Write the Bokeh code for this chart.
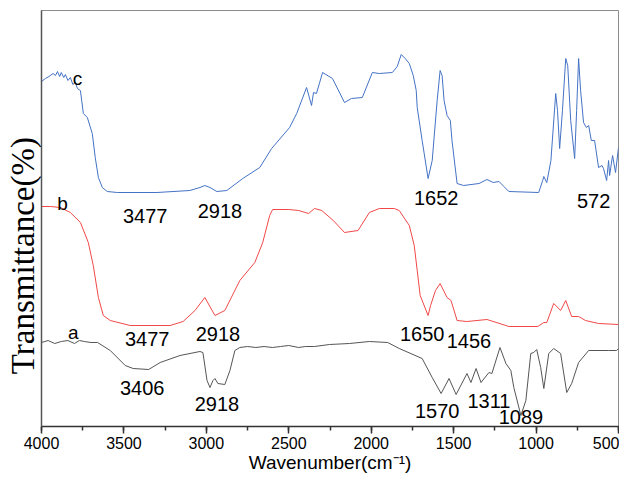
from bokeh.plotting import figure
from bokeh.models import Range1d, SingleIntervalTicker, FixedTicker, Label
from bokeh.embed import file_html
from bokeh.resources import INLINE

# ---- data (wavenumber, transmittance in arbitrary offset units) ----
c_wn = [4000, 3976, 3955, 3930, 3915, 3903, 3890, 3880, 3865, 3855, 3840, 3825, 3810, 3795,
        3782, 3764, 3746, 3722, 3692, 3674, 3655, 3631, 3601, 3540, 3300, 3100, 3039, 3009,
        2978, 2936, 2876, 2779, 2676, 2604, 2495, 2452, 2392, 2362, 2350, 2332, 2295, 2235,
        2162, 2120, 2054, 1993, 1951, 1872, 1842, 1818, 1794, 1769, 1745, 1727, 1721, 1691,
        1655, 1630, 1600, 1582, 1570, 1558, 1540, 1520, 1510, 1479, 1440, 1346, 1298, 1260,
        1225, 1195, 1165, 984, 960, 953, 935, 910, 881, 870, 857, 840, 820, 808, 790, 766,
        754, 742, 730, 712, 695, 681, 665, 645, 621, 600, 591, 572, 560, 554, 536, 518, 500]
c_t = [351, 354, 356, 359, 357, 361, 356, 360, 355, 358, 352, 355, 348, 350,
       344, 342, 319, 315, 299, 275, 255, 245, 241, 240, 240, 242, 245, 247,
       245, 241, 242, 254, 265, 284, 305, 319, 345, 327, 340, 339, 360, 354,
       330, 334, 335, 360, 359, 360, 366, 378, 374, 369, 357, 342, 325, 292,
       254, 272, 332, 362, 357, 332, 317, 312, 292, 249, 247, 249, 253, 250,
       251, 246, 241, 240, 252, 256, 250, 272, 339, 322, 284, 322, 374, 367, 312, 274,
       322, 374, 342, 310, 305, 307, 292, 292, 265, 267, 264, 252, 272, 257, 277, 260, 285]

b_wn = [4000, 3946, 3885, 3825, 3764, 3716, 3686, 3655, 3625, 3583, 3462, 3220, 3141, 3069,
        3009, 2948, 2888, 2797, 2706, 2658, 2616, 2598, 2500, 2440, 2380, 2344, 2300, 2230,
        2162, 2080, 2011, 1951, 1860, 1830, 1769, 1739, 1721, 1703, 1655, 1640, 1610, 1582,
        1540, 1516, 1479, 1420, 1298, 1183, 1165, 990, 953, 935, 893, 851, 820, 784, 742,
        700, 621, 500]
b_t = [226, 226, 225, 220, 210, 190, 167, 135, 117, 112, 107, 107, 111, 122,
       135, 117, 122, 152, 170, 190, 217, 223, 223, 222, 219, 224, 222, 212,
       200, 202, 220, 224, 224, 222, 207, 187, 162, 137, 117, 127, 142, 149,
       135, 132, 112, 111, 113, 107, 106, 106, 110, 110, 129, 122, 132, 116, 116,
       112, 109, 108]

a_wn = [4000, 3960, 3920, 3880, 3840, 3800, 3770, 3740, 3700, 3660, 3583, 3492, 3444, 3350,
        3280, 3160, 3039, 3021, 2996, 2978, 2960, 2948, 2930, 2888, 2857, 2827, 2797, 2750,
        2700, 2650, 2600, 2550, 2500, 2440, 2400, 2344, 2253, 2132, 2011, 1900, 1830, 1691,
        1630, 1576, 1528, 1485, 1419, 1395, 1364, 1334, 1286, 1268, 1219, 1183, 1153, 1135,
        1092, 1062, 1032, 1014, 996, 972, 953, 923, 893, 851, 814, 784, 742, 681, 560,
        512, 500]
a_t = [90, 92, 89, 91, 92, 89, 92, 91, 90, 90, 82, 67, 64, 63,
       70, 77, 81, 80, 52, 45, 52, 54, 49, 48, 62, 82, 85, 86,
       85, 86, 85, 86, 87, 85, 86, 86, 88, 89, 91, 90, 84, 74,
       55, 39, 54, 38, 59, 50, 64, 50, 60, 59, 85, 69, 62, 45,
       17, 32, 79, 80, 83, 65, 44, 79, 84, 79, 40, 49, 70, 82, 82,
       82, 84]

series_names = ["c", "b", "a"]
peak_labels = ["3477", "2918", "1652", "572", "3477", "2918", "1650", "1456",
               "3406", "2918", "1570", "1311", "1089"]

# ---- annotation placement ----
name_pos = [(3782, 354), (3873, 229), (3807, 100)]
peak_pos = [(3371, 217), (2918, 222), (1606, 235), (651, 232), (3359, 94), (2930, 99),
            (1691, 99), (1407, 92), (3389, 45), (2936, 29), (1600, 22), (1286, 32), (1092, 16)]

FONT = "Liberation Sans"

p = figure(width=619, height=476, output_backend="svg", toolbar_location=None,
           x_range=Range1d(4000, 500), y_range=Range1d(6, 422),
           min_border_left=41, min_border_right=1, min_border_top=10, min_border_bottom=50,
           background_fill_color="white", border_fill_color="white")
p.grid.visible = False
p.outline_line_color = "#8c8c8c"
p.outline_line_width = 1

p.line(c_wn, c_t, line_color="#4472C4", line_width=1)
p.line(b_wn, b_t, line_color="#F04848", line_width=1)
p.line(a_wn, a_t, line_color="#555555", line_width=1)

for name, (x, y) in zip(series_names, name_pos):
    p.add_layout(Label(x=x, y=y, text=name, text_font=FONT, text_font_size="19px",
                       text_align="center", text_baseline="middle", text_color="black"))
for t, (x, y) in zip(peak_labels, peak_pos):
    p.add_layout(Label(x=x, y=y, text=t, text_font=FONT, text_font_size="20px",
                       text_align="center", text_baseline="middle", text_color="black"))

xa = p.xaxis[0]
xa.ticker = SingleIntervalTicker(interval=500, num_minor_ticks=2)
xa.major_tick_in = 0
xa.major_tick_out = 7
xa.minor_tick_in = 0
xa.minor_tick_out = 4
xa.axis_line_color = "#333333"
xa.axis_line_width = 1.5
xa.major_tick_line_color = "#333333"
xa.major_tick_line_width = 1.5
xa.minor_tick_line_color = "#333333"
xa.minor_tick_line_width = 1.5
xa.major_label_text_font = FONT
xa.major_label_text_font_size = "16px"
xa.major_label_text_color = "black"
xa.major_label_standoff = 3
xa.axis_label = "Wavenumber(cm\u207b\u00b9)"
xa.axis_label_text_font = FONT
xa.axis_label_text_font_size = "19px"
xa.axis_label_text_font_style = "normal"
xa.axis_label_text_color = "black"
xa.axis_label_standoff = 0

ya = p.yaxis[0]
ya.ticker = FixedTicker(ticks=[])
ya.major_tick_in = 0
ya.major_tick_out = 0
ya.minor_tick_in = 0
ya.minor_tick_out = 0
ya.major_label_standoff = 0
ya.axis_line_color = "#555555"
ya.axis_line_width = 1.5
# trailing no-break spaces push the visible title down to where the reference has it
ya.axis_label = "Transmittance(%)" + "\u00a0" * 9
ya.axis_label_text_font = "Liberation Serif"
ya.axis_label_text_font_size = "33px"
ya.axis_label_text_font_style = "normal"
ya.axis_label_text_color = "black"
ya.axis_label_standoff = 1

open("out.html", "w").write(file_html(p, INLINE))
